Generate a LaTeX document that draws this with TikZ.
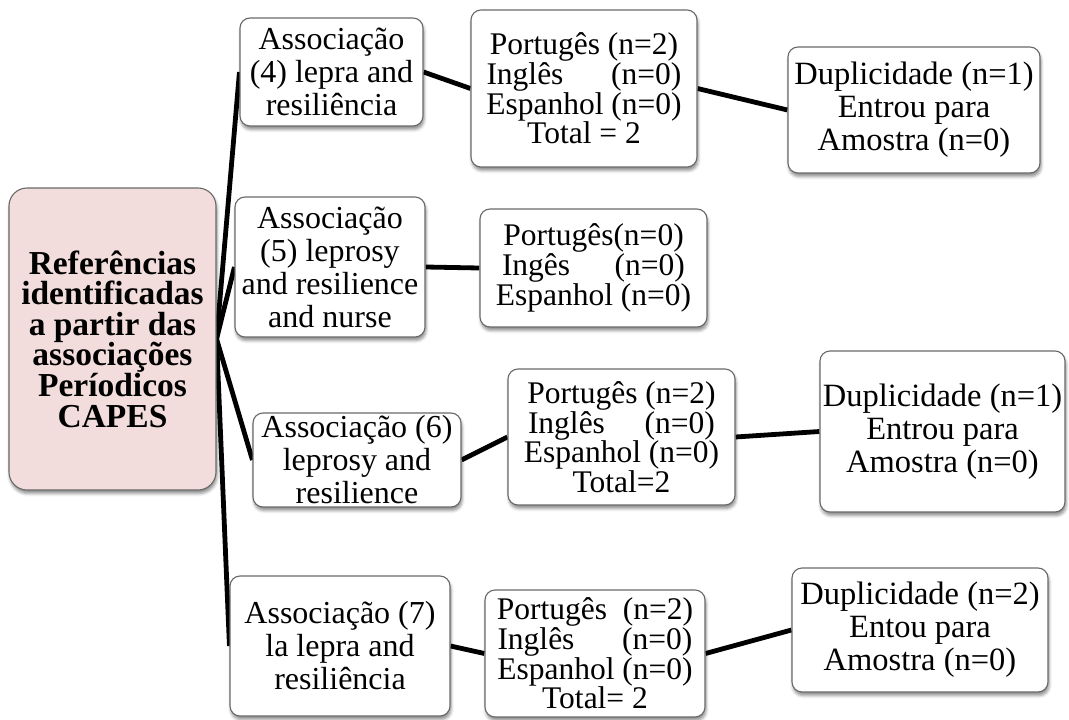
\documentclass[tikz,border=0pt]{standalone}
\usepackage{fontspec}
\setmainfont{Liberation Serif}
\usetikzlibrary{shadows.blur}
\definecolor{rootpink}{RGB}{242,221,220}
\definecolor{boxedge}{RGB}{105,105,105}
% a line whose two parts are pushed to the ends of a fixed width
\newcommand\spreadline[3]{\makebox[#1]{#2\hfill#3}}
\pgfdeclarelayer{bg}
\pgfsetlayers{bg,main}
\begin{document}
\begin{tikzpicture}[x=1pt,y=-1pt,
  box/.style={draw=boxedge, line width=1.1pt, fill=white, rounded corners=10pt,
    inner sep=0pt, align=center,
    blur shadow={shadow xshift=1pt, shadow yshift=-3.5pt, shadow blur radius=3pt, shadow opacity=45}},
  rootbox/.style={box, fill=rootpink, rounded corners=18pt,
    font=\fontsize{33.5}{30.6}\selectfont\bfseries},
  assocbox/.style={box, font=\fontsize{32}{33}\selectfont},
  langbox/.style={box, font=\fontsize{31.5}{28}\selectfont},
  dupbox/.style={box, font=\fontsize{32.5}{33}\selectfont},
  link/.style={line width=4.8pt}]
\useasboundingbox (0,0) rectangle (1069,720);

% root
\node[rootbox, minimum width=207pt, minimum height=302pt] (root) at (112.5,339)
  {Referências\\identificadas\\a partir das\\associações\\Períodicos\\CAPES};

% association (4)
\node[assocbox, minimum width=183pt, minimum height=108pt] (a4) at (331.5,72)
  {Associação\\(4) lepra and\\resiliência};
\node[langbox, minimum width=226pt, minimum height=157pt] (p4) at (584,88.5)
  {Portugês (n=2)\\\spreadline{195pt}{Inglês}{(n=0)}\\Espanhol (n=0)\\Total = 2};
\node[dupbox, minimum width=252pt, minimum height=126pt] (d4) at (914,110)
  {Duplicidade (n=1)\\Entrou para\\Amostra (n=0)};

% association (5)
\node[assocbox, minimum width=190pt, minimum height=140pt] (a5) at (330,267)
  {Associação\\(5) leprosy\\and resilience\\and nurse};
\node[langbox, minimum width=227pt, minimum height=118pt] (p5) at (593.5,268)
  {Portugês(n=0)\\\spreadline{183pt}{Ingês}{(n=0)}\\Espanhol (n=0)};

% association (6)
\node[assocbox, minimum width=208pt, minimum height=94pt] (a6) at (357,460)
  {Associação (6)\\leprosy and\\resilience};
\node[langbox, minimum width=227pt, minimum height=136pt] (p6) at (621.5,437)
  {Portugês (n=2)\\\spreadline{187pt}{Inglês}{(n=0)}\\Espanhol (n=0)\\Total=2};
\node[dupbox, minimum width=245pt, minimum height=161pt] (d6) at (942.5,431.5)
  {Duplicidade (n=1)\\Entrou para\\Amostra (n=0)};

% association (7)
\node[assocbox, minimum width=220pt, minimum height=140pt] (a7) at (340,646)
  {Associação (7)\\la lepra and\\resiliência};
\node[langbox, minimum width=220pt, minimum height=127pt] (p7) at (595,653.5)
  {Portugês\ \ (n=2)\\\spreadline{195pt}{Inglês}{(n=0)}\\Espanhol (n=0)\\Total= 2};
\node[dupbox, minimum width=256pt, minimum height=124pt] (d7) at (920,630)
  {Duplicidade (n=2)\\Entou para\\Amostra (n=0)};

% connectors
\begin{pgfonlayer}{bg}
  \draw[link] (root.east) -- (a4.west);
  \draw[link] (root.east) -- (a5.west);
  \draw[link] (root.east) -- (a6.west);
  \draw[link] (root.east) -- (a7.west);
  \draw[link] (a4.east) -- (p4.west);
  \draw[link] (p4.east) -- (d4.west);
  \draw[link] (a5.east) -- (p5.west);
  \draw[link] (a6.east) -- (p6.west);
  \draw[link] (p6.east) -- (d6.west);
  \draw[link] (a7.east) -- (p7.west);
  \draw[link] (p7.east) -- (d7.west);
\end{pgfonlayer}
\end{tikzpicture}
\end{document}
